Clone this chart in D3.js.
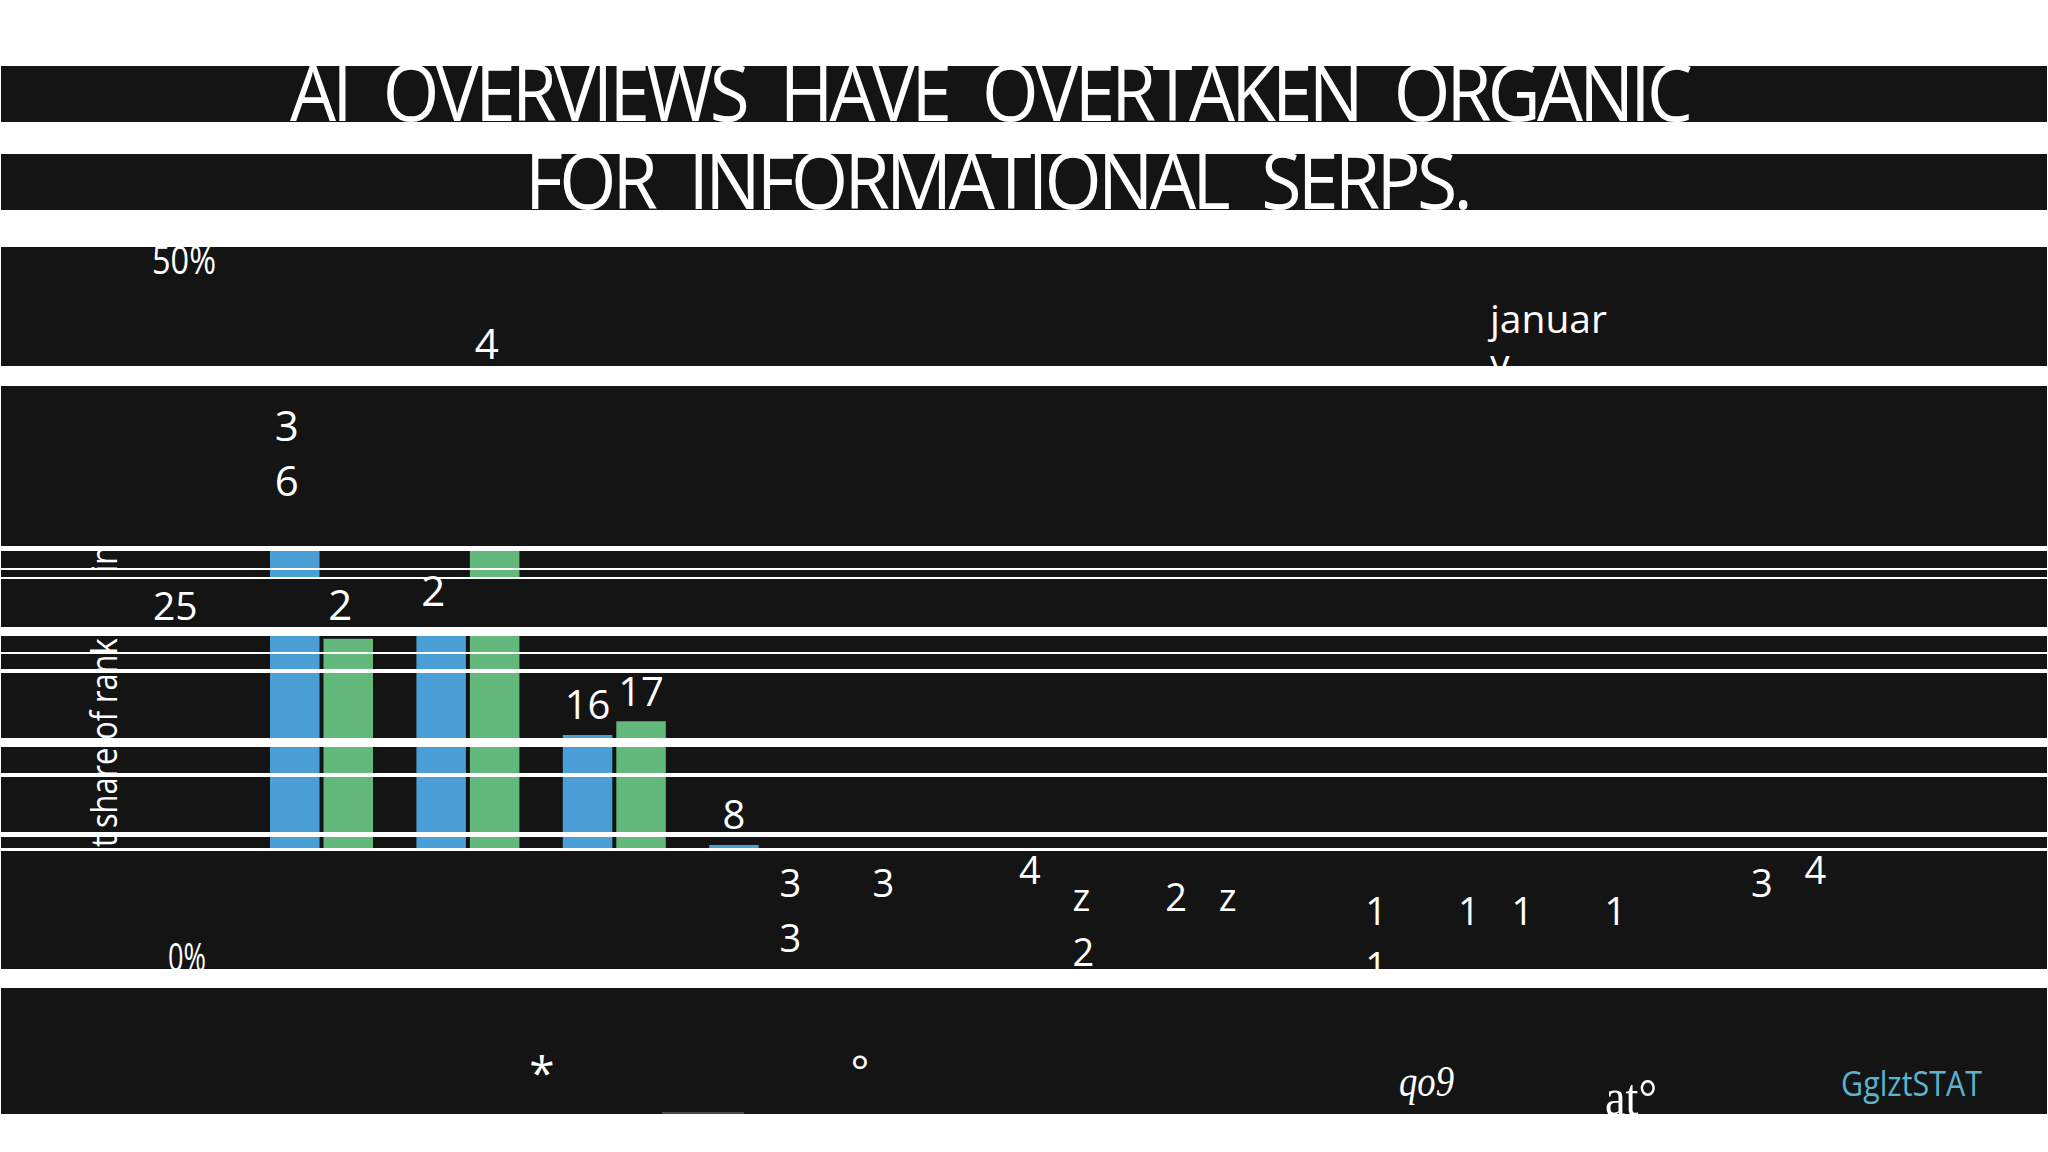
<!DOCTYPE html>
<html>
<head>
<meta charset="utf-8">
<script src="https://cdn.jsdelivr.net/npm/d3@7"></script>
<style>
  html, body { margin: 0; padding: 0; background: #ffffff; }
  svg { display: block; }
</style>
</head>
<body>
<svg id="chart" width="2048" height="1152"></svg>
<script>
// ---------------- DATA ----------------
const categories   = ["1", "2", "3", "4", "5", "6", "7", "8", "9", "10", "11"];
const seriesKeys   = ["blue", "green"];
const blueValues   = [36, 24, 16, 8, 3, 4, 2, null, 1, 1, 3];
const greenValues  = [23, 42, 17, 3, null, 2, 2, 1, 1, null, 4];
const yTickValues  = [50, 25, 0];
const yTickLabels  = ["50%", "25", "0%"];
const titleLines   = ["AI OVERVIEWS HAVE OVERTAKEN ORGANIC", "FOR INFORMATIONAL SERPS."];
const yAxisTitle   = "Percent share of rankings in";
const legendLines  = ["januar", "y"];
const xAxisGlyphs  = ["*", "°", "qo9", "at°"];
const sourceLabel  = "GglztSTAT";

// glitched label renderings (text lines shown for a bar label)
const labelGlitch = {
  "blue-0": ["3", "6"], "blue-1": ["2"], "green-0": ["2"], "green-1": ["4"],
  "green-3": ["3", "3"], "green-5": ["z", "2"], "green-6": ["z"], "green-7": ["1", "1"]
};

// ---------------- LAYOUT / STYLE ----------------
const W = 2048, H = 1152;
const DARK = "#141414", BLUE = "#4aa0d6", GREEN = "#63b97c", TEAL = "#5cb3cd", WHITE = "#ffffff";
const SANS = "'Open Sans', 'Noto Sans', sans-serif";
const SERIF = "'Liberation Serif', 'DejaVu Serif', serif";
const bands = [[66,122],[154,210],[247,366],[386,546],[551,568],[570,577],[579,627],
               [636,652],[654,669],[673,738],[747,773],[777,832],[837,848],[851,969],[988,1114]];
const barWindows = [[546,579],[627,851]];

const svg = d3.select("#chart");
svg.append("rect").attr("width", W).attr("height", H).attr("fill", WHITE);

// dark bands
svg.append("g").selectAll("rect").data(bands).join("rect")
  .attr("x", 1).attr("width", W - 2)
  .attr("y", d => d[0]).attr("height", d => d[1] - d[0])
  .attr("fill", DARK);
svg.append("rect").attr("x", 662).attr("y", 1112).attr("width", 82).attr("height", 2).attr("fill", "#4a4a4a");

// scales
const y = d3.scaleLinear().domain([0, 50]).range([955, 267.5]);
const step = 146.4, groupW = 103, pIn = 1 - groupW / step, pOut = pIn / 2;
const r0 = 270 - pOut * step;
const x0 = d3.scaleBand().domain(categories).range([r0, r0 + step * categories.length])
  .paddingInner(pIn).paddingOuter(pOut);
const x1 = d3.scaleBand().domain(seriesKeys).range([0, x0.bandwidth()]).paddingInner(4 / 53.5);
const color = d3.scaleOrdinal().domain(seriesKeys).range([BLUE, GREEN]);

const barData = [];
categories.forEach((c, i) => {
  seriesKeys.forEach(k => {
    const v = (k === "blue" ? blueValues : greenValues)[i];
    if (v != null) barData.push({ c, i, k, v });
  });
});

// clip for bars and rotated axis title
const defs = svg.append("defs");
const clip = defs.append("clipPath").attr("id", "barclip");
clip.selectAll("rect").data(barWindows).join("rect")
  .attr("x", 0).attr("width", W).attr("y", d => d[0]).attr("height", d => d[1] - d[0]);

const clipped = svg.append("g").attr("clip-path", "url(#barclip)");
clipped.selectAll("rect.bar").data(barData).join("rect")
  .attr("class", "bar")
  .attr("x", d => x0(d.c) + x1(d.k))
  .attr("width", x1.bandwidth())
  .attr("y", d => y(d.v))
  .attr("height", d => y(0) - y(d.v))
  .attr("fill", d => color(d.k));

// rotated y-axis title
clipped.append("g").attr("transform", "translate(117,546) rotate(-90)")
  .append("text")
  .attr("text-anchor", "end")
  .attr("font-family", SANS).attr("font-size", 37)
  .attr("textLength", 400).attr("lengthAdjust", "spacingAndGlyphs")
  .attr("fill", WHITE)
  .text(yAxisTitle);

// title
const titleLayout = [{ x: 290, y: 121, len: 1399 }, { x: 525, y: 209, len: 944 }];
svg.append("g").selectAll("text").data(titleLines).join("text")
  .attr("x", (d, i) => titleLayout[i].x).attr("y", (d, i) => titleLayout[i].y)
  .attr("textLength", (d, i) => titleLayout[i].len).attr("lengthAdjust", "spacingAndGlyphs")
  .attr("font-family", SANS).attr("font-size", 78).attr("fill", WHITE)
  .attr("letter-spacing", -4).attr("word-spacing", 20)
  .text(d => d);

// y tick labels
const tickLayout = { 50: { x: 152, dy: -7.5, len: 64 }, 25: { x: 153, dy: -5, len: null }, 0: { x: 168, dy: 2, len: 38 } };
svg.append("g").selectAll("text").data(yTickValues).join("text")
  .attr("x", d => tickLayout[d].x)
  .attr("y", d => y(d) + tickLayout[d].dy + 0.36 * 39)
  .attr("font-family", SANS).attr("font-size", 39).attr("fill", WHITE)
  .each(function (d) { if (tickLayout[d].len) d3.select(this).attr("textLength", tickLayout[d].len).attr("lengthAdjust", "spacingAndGlyphs"); })
  .text((d, i) => yTickLabels[i]);

// bar value labels
const labelG = svg.append("g");
barData.forEach(d => {
  const fs = d.v >= 20 ? 42 : d.v >= 5 ? 40 : 38;
  const full = String(d.v);
  const lines = labelGlitch[d.k + "-" + d.i] || [full];
  const cw = 0.572 * fs;
  const cx = x0(d.c) + x1(d.k) + x1.bandwidth() / 2;
  const shiftX = d.v >= 20 ? 4 : d.v <= 4 ? 3 : 0;
  const shiftY = d.v >= 20 ? -4 : 0;
  const xs = cx - full.length * cw / 2 + shiftX;
  const t = labelG.append("text")
    .attr("font-family", SANS).attr("font-size", fs).attr("fill", WHITE)
    .attr("x", xs).attr("y", y(d.v) - 30 + 0.36 * fs + shiftY);
  lines.forEach((ln, li) => {
    t.append("tspan").attr("x", xs).attr("dy", li === 0 ? 0 : 55).text(ln);
  });
});

// legend fragment
const lg = svg.append("text").attr("font-family", SANS).attr("font-size", 39).attr("fill", WHITE)
  .attr("x", 1490).attr("y", 333);
legendLines.forEach((ln, i) => lg.append("tspan").attr("x", 1490).attr("dy", i === 0 ? 0 : 44).text(ln));

// glitched x-axis glyphs
const glyphLayout = [
  { x: 542, y: 1090, fs: 46, fam: SANS, style: "normal", anchor: "middle", len: null },
  { x: 860, y: 1087, fs: 44, fam: SANS, style: "normal", anchor: "middle", len: null },
  { x: 1399, y: 1096, fs: 45, fam: SERIF, style: "italic", anchor: "start", len: 55 },
  { x: 1605, y: 1115, fs: 52, fam: SERIF, style: "normal", anchor: "start", len: 52 }
];
svg.append("g").selectAll("text").data(xAxisGlyphs).join("text")
  .attr("x", (d, i) => glyphLayout[i].x).attr("y", (d, i) => glyphLayout[i].y)
  .attr("font-family", (d, i) => glyphLayout[i].fam)
  .attr("font-style", (d, i) => glyphLayout[i].style)
  .attr("font-size", (d, i) => glyphLayout[i].fs)
  .attr("text-anchor", (d, i) => glyphLayout[i].anchor)
  .each(function (d, i) { if (glyphLayout[i].len) d3.select(this).attr("textLength", glyphLayout[i].len).attr("lengthAdjust", "spacingAndGlyphs"); })
  .attr("fill", WHITE).text(d => d);

// source
svg.append("text").attr("x", 1841).attr("y", 1096)
  .attr("font-family", SANS).attr("font-size", 34).attr("fill", TEAL)
  .attr("textLength", 141).attr("lengthAdjust", "spacingAndGlyphs")
  .text(sourceLabel);

// white gaps on top
const gaps = [];
let prev = 0;
bands.forEach(b => { if (b[0] > prev) gaps.push([prev, b[0]]); prev = b[1]; });
if (prev < H) gaps.push([prev, H]);
svg.append("g").selectAll("rect").data(gaps).join("rect")
  .attr("x", 0).attr("width", W).attr("y", d => d[0]).attr("height", d => d[1] - d[0])
  .attr("fill", WHITE);
</script>
</body>
</html>
